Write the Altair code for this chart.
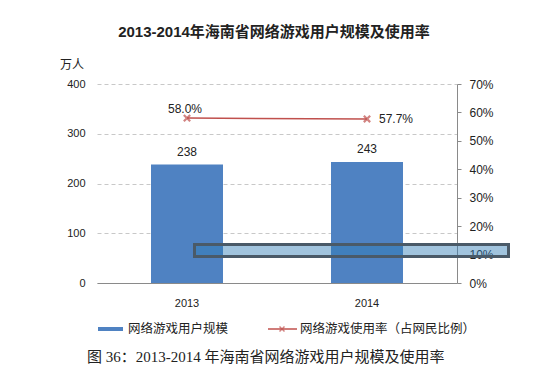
import altair as alt
import pandas as pd

years = ["2013", "2014"]
users = [238, 243]
rate = [0.580, 0.577]

title_text = "2013-2014年海南省网络游戏用户规模及使用率"
unit_text = "万人"
legend_bar = "网络游戏用户规模"
legend_line = "网络游戏使用率（占网民比例）"
caption = "图 36：2013-2014 年海南省网络游戏用户规模及使用率"

df = pd.DataFrame({"year": years, "users": users, "rate": rate})

FONT = "Liberation Sans, Noto Sans CJK SC"
BLUE = "#4f82c2"
RED = "#c0504d"
XSHAPE = "M-1,-1L1,1M-1,1L1,-1"

base = alt.Chart(df)
xenc = alt.X("year:N", title=None,
             scale=alt.Scale(paddingInner=0.6, paddingOuter=0.3),
             axis=alt.Axis(labelAngle=0, ticks=False, domainColor="#8a8a8a",
                           labelPadding=14, labelFontSize=11, labelColor="#222",
                           labelFont=FONT))

yleft = alt.Y("users:Q", title=None,
              scale=alt.Scale(domain=[0, 400]),
              axis=alt.Axis(orient="left", values=[0, 100, 200, 300, 400],
                            labelOverlap=False,
                            domain=False, ticks=False, labelPadding=12,
                            labelFontSize=11, labelColor="#222", labelFont=FONT,
                            grid=True, gridDash=[4, 3], gridColor="#c8c8c8"))

bars = base.mark_bar(color=BLUE).encode(x=xenc, y=yleft)
bar_text = base.mark_text(dy=-13, fontSize=12, font=FONT, color="#222").encode(
    x=xenc, y=yleft, text="users:Q")
left = alt.layer(bars, bar_text)

yright = alt.Y("rate:Q", title=None,
               scale=alt.Scale(domain=[0, 0.7]),
               axis=alt.Axis(orient="right", format=".0%",
                             values=[0, 0.1, 0.2, 0.3, 0.4, 0.5, 0.6, 0.7],
                             labelOverlap=False, tickCount=8,
                             domainColor="#8a8a8a", tickColor="#8a8a8a", tickSize=4,
                             labelPadding=8, labelFontSize=12, labelColor="#222",
                             labelFont=FONT, grid=False))

line = base.mark_line(color=RED, strokeWidth=1.5).encode(x=xenc, y=yright)
pts = base.mark_point(shape=XSHAPE, color=RED, size=40, strokeWidth=2.2,
                      filled=False).encode(x=xenc, y=yright)
lbl1 = base.transform_filter(alt.datum.year == "2013").mark_text(
    dy=-9, dx=-2, fontSize=12, font=FONT, color="#222").encode(
    x=xenc, y=yright, text=alt.Text("rate:Q", format=".1%"))
lbl2 = base.transform_filter(alt.datum.year == "2014").mark_text(
    dx=12, align="left", fontSize=12, font=FONT, color="#222").encode(
    x=xenc, y=yright, text=alt.Text("rate:Q", format=".1%"))
right = alt.layer(line, pts, lbl1, lbl2)

one = pd.DataFrame({"k": [0]})
ann = alt.Chart(one)
title_mark = ann.mark_text(fontSize=15, fontWeight="bold", font=FONT, color="#222",
                           baseline="middle").encode(
    x=alt.value(177), y=alt.value(-52), text=alt.value(title_text))
unit_mark = ann.mark_text(fontSize=12, font=FONT, color="#222", baseline="middle").encode(
    x=alt.value(-25), y=alt.value(-19), text=alt.value(unit_text))
leg_rule1 = ann.mark_rule(color=BLUE, strokeWidth=4).encode(
    x=alt.value(1), x2=alt.value(26), y=alt.value(245))
leg_text1 = ann.mark_text(fontSize=12.5, font=FONT, color="#222", align="left",
                          baseline="middle").encode(
    x=alt.value(31), y=alt.value(245), text=alt.value(legend_bar))
leg_rule2 = ann.mark_rule(color=RED, strokeWidth=1.5).encode(
    x=alt.value(171), x2=alt.value(200), y=alt.value(245))
leg_pt2 = ann.mark_point(shape=XSHAPE, color=RED, size=25, strokeWidth=1.5,
                         filled=False).encode(x=alt.value(185), y=alt.value(245))
leg_text2 = ann.mark_text(fontSize=12.5, font=FONT, color="#222", align="left",
                          baseline="middle").encode(
    x=alt.value(203), y=alt.value(245), text=alt.value(legend_line))
cap = ann.mark_text(fontSize=15, font="Liberation Serif, Noto Sans CJK SC",
                    color="#222", align="left", baseline="middle").encode(
    x=alt.value(-10), y=alt.value(273), text=alt.value(caption))
box = ann.mark_rect(fill="#2f7db5", fillOpacity=0.45, stroke="#4a5a68",
                    strokeWidth=3).encode(
    x=alt.value(97.5), x2=alt.value(411.5), y=alt.value(160.5), y2=alt.value(172.5))

chart = alt.layer(left, right, title_mark, unit_mark, leg_rule1, leg_text1,
                  leg_rule2, leg_pt2, leg_text2, cap, box).resolve_scale(
    y="independent").properties(
    width=360, height=199,
    autosize=alt.AutoSizeParams(type="none"),
    padding={"left": 89, "top": 76, "right": 85, "bottom": 86},
    background="white",
).configure_view(stroke=None)

chart.save("out.html", embed_options={"renderer": "svg", "actions": False})
